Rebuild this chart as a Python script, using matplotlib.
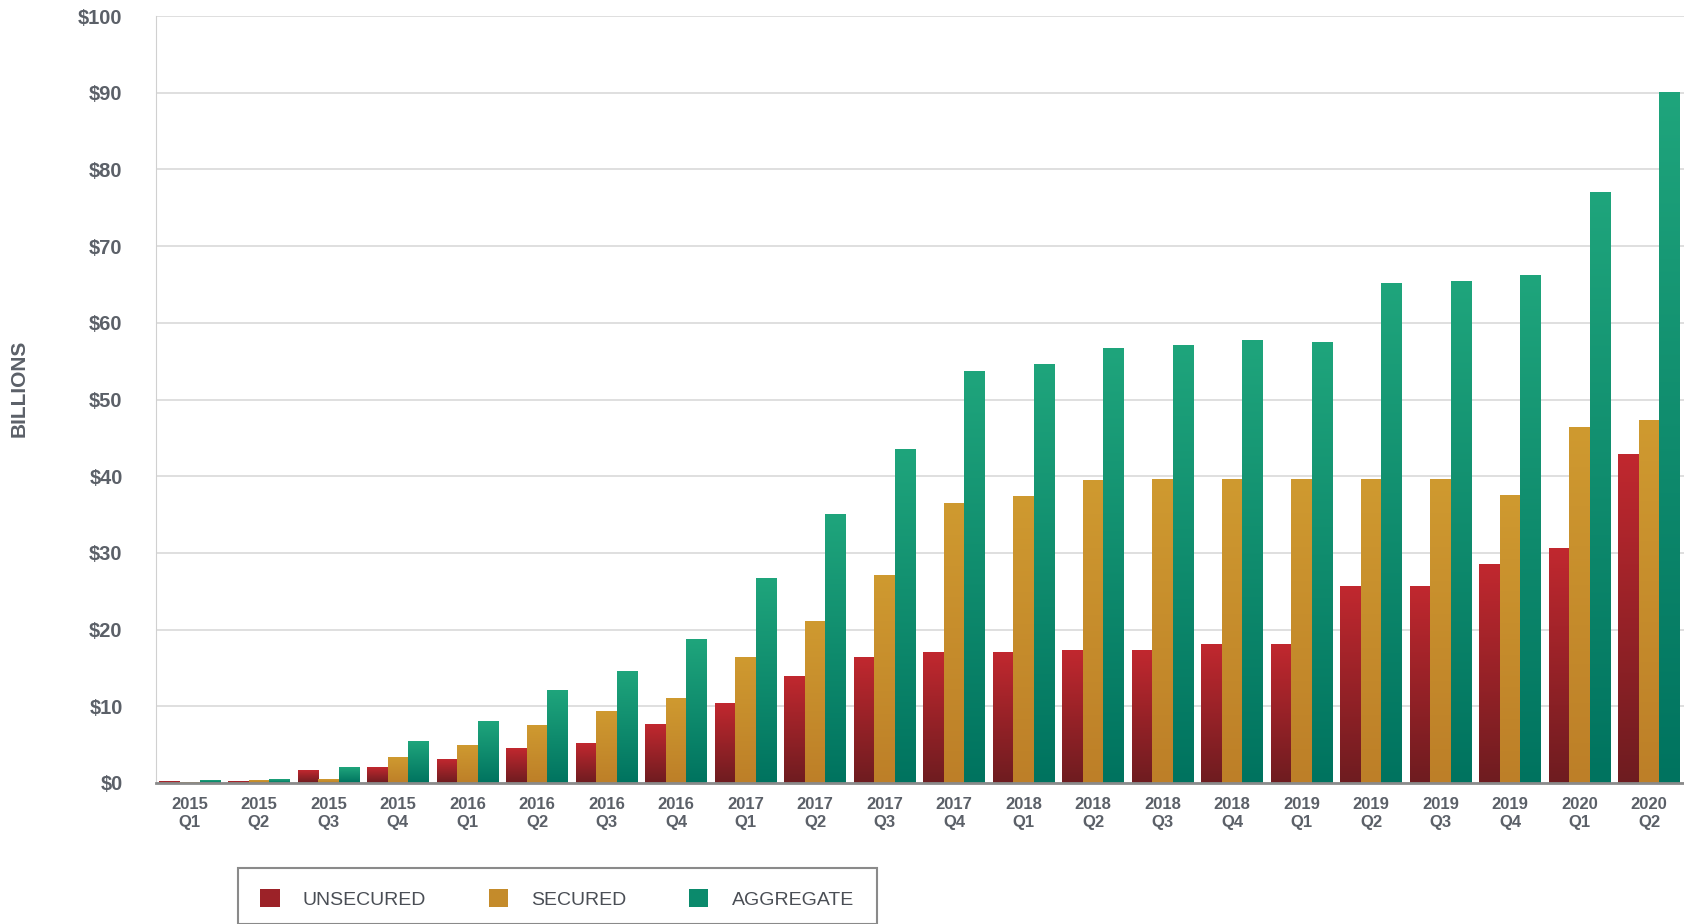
import numpy as np
import matplotlib
matplotlib.use("Agg")
import matplotlib.pyplot as plt
from matplotlib.colors import LinearSegmentedColormap
from matplotlib.patches import Rectangle, Patch

quarters = [f"{y}\nQ{q}" for y in range(2015, 2021) for q in range(1, 5)][:22]
unsecured = [0.2, 0.2, 1.6, 2.0, 3.0, 4.5, 5.1, 7.6, 10.3, 13.9, 16.4, 17.0,
             17.0, 17.3, 17.3, 18.0, 18.0, 25.6, 25.6, 28.5, 30.6, 42.8]
secured = [0.1, 0.3, 0.4, 3.3, 4.9, 7.5, 9.3, 11.0, 16.4, 21.0, 27.0, 36.5,
           37.3, 39.4, 39.6, 39.6, 39.6, 39.6, 39.6, 37.5, 46.3, 47.2]
aggregate = [0.3, 0.5, 2.0, 5.4, 8.0, 12.1, 14.5, 18.7, 26.7, 35.0, 43.5, 53.6,
             54.5, 56.7, 57.0, 57.7, 57.4, 65.1, 65.4, 66.2, 77.0, 90.0]

series = [
    ("UNSECURED", unsecured, ("#c1282f", "#6e1c20"), "#9c2228"),
    ("SECURED", secured, ("#cf9a30", "#bd7f28"), "#c48b2b"),
    ("AGGREGATE", aggregate, ("#1fa57c", "#00735f"), "#0b8a6c"),
]

plt.rcParams["font.family"] = ["Liberation Sans", "DejaVu Sans"]
text_color = "#5b6068"

fig = plt.figure(figsize=(16.84, 9.24), dpi=100)
ax = fig.add_axes([156 / 1684, 1 - 783 / 924, 1 - 156 / 1684, (783 - 16) / 924])

x = np.arange(len(quarters))
width = 0.295
grad = np.linspace(1, 0, 256).reshape(-1, 1)
handles = []
for i, (name, vals, (top, bottom), mid) in enumerate(series):
    cmap = LinearSegmentedColormap.from_list(name, [bottom, top])
    offs = (i - 1) * width
    for xi, v in zip(x, vals):
        x0 = xi + offs - width / 2
        ax.imshow(grad, extent=(x0, x0 + width, 0, v), aspect="auto",
                  cmap=cmap, vmin=0, vmax=1, zorder=3, interpolation="bicubic")
    handles.append(Patch(facecolor=mid, label=name))

ax.set_xlim(-0.48, 21.5)
ax.set_ylim(0, 100)
ax.set_yticks(range(0, 101, 10))
ax.set_yticklabels([f"${v}" for v in range(0, 101, 10)])
ax.set_xticks(x)
ax.set_xticklabels(quarters)
ax.grid(axis="y", color="#d9d9d9", linewidth=1.2, zorder=0)
for s in ["top", "right"]:
    ax.spines[s].set_visible(False)
ax.spines["left"].set_color("#d0d0d0")
ax.spines["bottom"].set_color("#8a8a8a")
ax.spines["bottom"].set_linewidth(2)
ax.spines["bottom"].set_zorder(4)
ax.tick_params(axis="both", length=0, colors=text_color)
ax.tick_params(axis="y", pad=24, labelsize=14.5)
ax.tick_params(axis="x", pad=10, labelsize=12)
for lbl in ax.get_xticklabels() + ax.get_yticklabels():
    lbl.set_fontweight("bold")
    lbl.set_linespacing(1.3)

fig.text(19 / 1684, 1 - 388 / 924, "BILLIONS", rotation=90, ha="center",
         va="center", fontsize=15, fontweight="bold", color=text_color)

# legend box
fig.patches.append(Rectangle((238 / 1684, 0), (877 - 238) / 1684, (924 - 868) / 924,
                             transform=fig.transFigure, fill=False,
                             edgecolor="#8a8a8a", linewidth=1.5))
leg = fig.legend(handles=handles, loc="center", bbox_to_anchor=(557 / 1684, 1 - 899 / 924),
                 ncol=3, frameon=False, fontsize=14, handlelength=1.0,
                 handleheight=1.0, columnspacing=3.2, handletextpad=1.2)
for t in leg.get_texts():
    t.set_color("#4a4e55")

fig.savefig("out.png", dpi=100)
